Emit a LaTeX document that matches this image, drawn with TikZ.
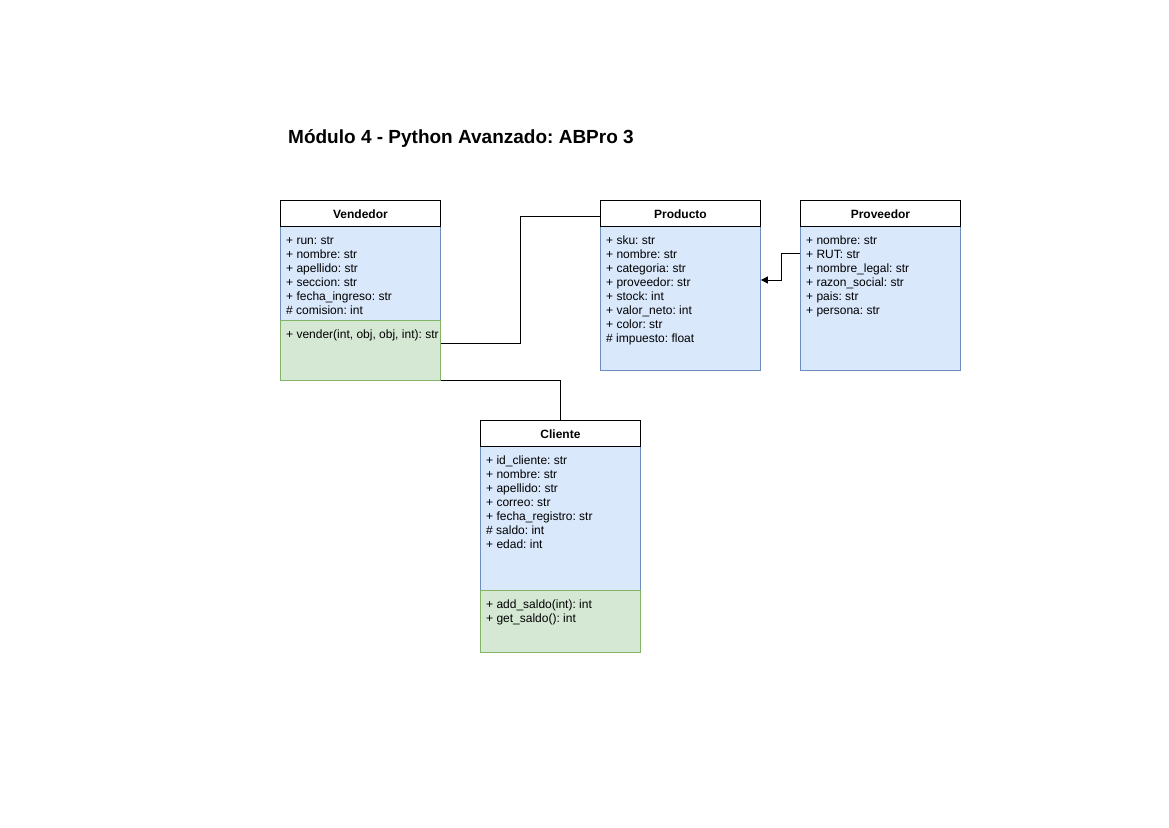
\documentclass[tikz,border=0pt]{standalone}
\usepackage{fontspec}
\setmainfont{Liberation Sans}
\usetikzlibrary{arrows.meta,calc}
\frenchspacing
\definecolor{bluefill}{HTML}{DAE8FC}
\definecolor{bluedraw}{HTML}{6C8EBF}
\definecolor{greenfill}{HTML}{D5E8D4}
\definecolor{greendraw}{HTML}{82B366}
\tikzset{
 hdr/.style={draw=black, fill=white, line width=0.9pt, minimum width=160pt, minimum height=26pt, inner sep=0pt, font=\fontsize{12}{14}\selectfont\bfseries, anchor=north west},
 hdrtxt/.style={anchor=center, inner sep=0pt, font=\fontsize{12}{14}\selectfont\bfseries},
 attr/.style={draw=bluedraw, fill=bluefill, line width=0.9pt, minimum width=160pt, inner sep=0pt, anchor=north west},
 meth/.style={draw=greendraw, fill=greenfill, line width=0.9pt, minimum width=160pt, inner sep=0pt, anchor=north west},
 txt/.style={anchor=north west, inner sep=0pt, align=left, font=\fontsize{12}{14}\selectfont},
 conn/.style={draw=black, line width=0.9pt},
}
\begin{document}
\begin{tikzpicture}[x=1pt,y=-1pt]
\useasboundingbox (0,0) rectangle (1169,827);
\node[anchor=base west, inner sep=0pt, font=\fontsize{19}{22}\selectfont\bfseries] (title) at (288,143) {Módulo 4 - Python Avanzado: ABPro 3};

% Vendedor
\node[attr, minimum height=94pt] (vendA) at (280,226) {};
\node[meth, minimum height=60pt] (vendM) at (280,320) {};
\node[hdr] (vendH) at (280,200) {};
\node[hdrtxt] (vendHT) at ([yshift=-1pt]vendH.center) {Vendedor};
\node[txt] (vendAT) at (286,234.2) {\strut+ run: str\\+ nombre: str\\+ apellido: str\\+ seccion: str\\+ fecha\_ingreso: str\\\# comision: int};
\begin{scope}
\clip (vendM.north west) rectangle (vendM.south east);
\node[txt] (vendMT) at (286,328.2) {\strut+ vender(int, obj, obj, int): str};
\end{scope}

% Producto
\node[attr, minimum height=144pt] (prodA) at (600,226) {};
\node[hdr] (prodH) at (600,200) {};
\node[hdrtxt] (prodHT) at ([yshift=-1pt]prodH.center) {Producto};
\node[txt] (prodAT) at (606,234.2) {\strut+ sku: str\\+ nombre: str\\+ categoria: str\\+ proveedor: str\\+ stock: int\\+ valor\_neto: int\\+ color: str\\\# impuesto: float};

% Proveedor
\node[attr, minimum height=144pt] (provA) at (800,226) {};
\node[hdr] (provH) at (800,200) {};
\node[hdrtxt] (provHT) at ([yshift=-1pt]provH.center) {Proveedor};
\node[txt] (provAT) at (806,234.2) {\strut+ nombre: str\\+ RUT: str\\+ nombre\_legal: str\\+ razon\_social: str\\+ pais: str\\+ persona: str};

% Cliente
\node[attr, minimum height=144pt] (cliA) at (480,446) {};
\node[meth, minimum height=62pt] (cliM) at (480,590) {};
\node[hdr] (cliH) at (480,420) {};
\node[hdrtxt] (cliHT) at ([yshift=-1pt]cliH.center) {Cliente};
\node[txt] (cliAT) at (486,454.2) {\strut+ id\_cliente: str\\+ nombre: str\\+ apellido: str\\+ correo: str\\+ fecha\_registro: str\\\# saldo: int\\+ edad: int};
\node[txt] (cliMT) at (486,598.2) {\strut+ add\_saldo(int): int\\+ get\_saldo(): int};

% connectors
\draw[conn] ([yshift=-23pt]vendM.north east) -- ++(80,0) |- ([yshift=-3pt]prodH.west);
\draw[conn] (vendM.south east) -| (cliH.north);
\draw[conn,-{Triangle[length=7pt,width=7pt]}] ([yshift=-27pt]provA.north west) -- ++(-19,0) |- ([yshift=-54pt]prodA.north east);
\end{tikzpicture}
\end{document}
